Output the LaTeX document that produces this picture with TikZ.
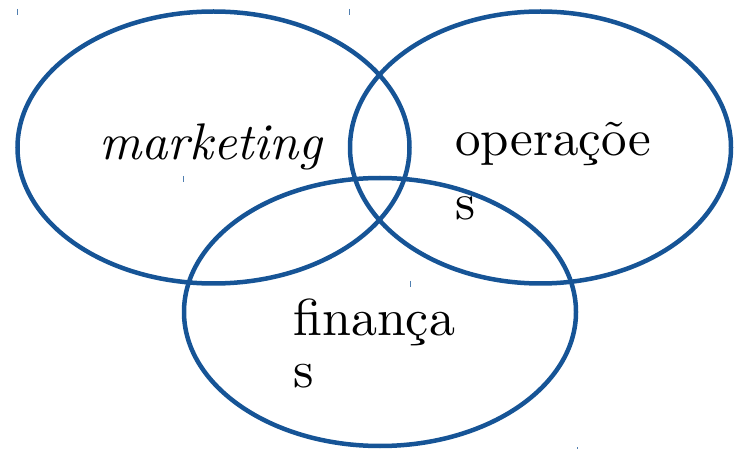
\documentclass[tikz,border=0pt]{standalone}
\usepackage{fontspec}
\setmainfont{lmroman10}[Extension=.otf,UprightFont=*-regular,ItalicFont=*-italic,BoldFont=*-bold]
\usepackage{tikz}
\definecolor{vennblue}{RGB}{22,84,150}

\begin{document}
\begin{tikzpicture}[x=1pt,y=-1pt,
        ring/.style={draw=vennblue,line width=4.5pt},
        label/.style={inner sep=0pt,anchor=base west,align=left},
        tick/.style={draw=vennblue!75,line width=1pt}]
        \useasboundingbox (0,0) rectangle (734,449);
        \draw[ring] (213.5,147.5) ellipse [x radius=196,y radius=136];
        \draw[ring] (540.5,147.5) ellipse [x radius=190.5,y radius=136];
        \draw[ring] (380,312) ellipse [x radius=196,y radius=134];
        % last line sits on the anchor
        \node[label,font=\fontsize{51.5}{61}\selectfont\itshape] (mkt) at (99,160) {marketing};
        \node[label,font=\fontsize{51}{64}\selectfont] (ops) at (455,220) {operaçõe\\s};
        \node[label,font=\fontsize{52}{52}\selectfont] (fin) at (293,387) {finança\\s};
        \draw[tick] (17,9) -- (17,15);
        \draw[tick] (349,9) -- (349,15);
        \draw[tick] (183,176) -- (183,182);
        \draw[tick] (410,281) -- (410,287);
        \draw[tick] (577,447) -- (577,449);
    \end{tikzpicture}
\end{document}
